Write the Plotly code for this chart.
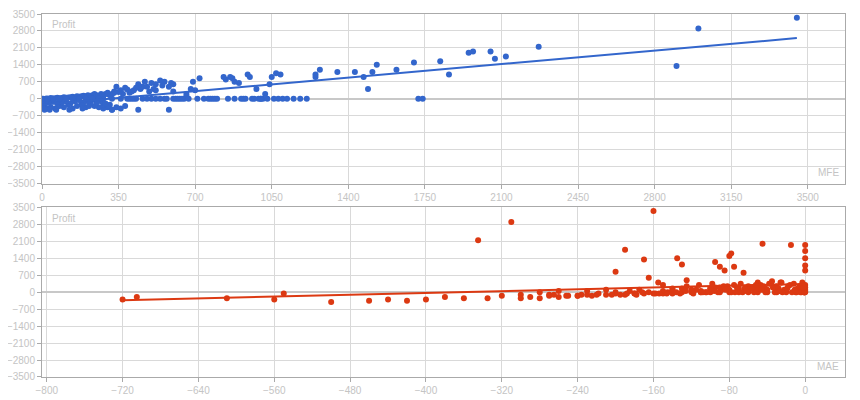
import numpy as np
import plotly.graph_objects as go
from plotly.subplots import make_subplots

# trades: MFE vs profit (top)
mfe = [3450, 3000, 2900, 2270, 2120, 2070, 2050, 1970, 1950, 1860, 1820, 1740, 1720, 1700, 1620,
       1530, 1510, 1490, 1470, 1430, 1350, 1270, 1250, 1250, 1180, 1120, 1090, 1070, 1050, 1040,
       1020, 1010, 990, 980, 950, 940, 920, 900, 880, 870, 860, 840, 830, 790, 770, 720, 700, 690,
       680, 660, 660, 650, 630, 600, 590, 580, 560, 550, 540, 520, 510, 500, 490, 470, 460, 440,
       420, 400, 380, 360, 340, 330, 320, 300, 280, 250, 580, 440, 610, 560, 600, 520, 480, 450,
       420, 400, 370, 360, 390, 410, 430, 350, 380, 360, 340, 320, 300, 280, 310,
       330, 320, 310, 300, 290, 280, 270, 260, 250, 240, 230, 220, 210, 200, 190, 180, 170, 160,
       150, 140, 130, 120, 110, 100, 90, 80, 70, 60, 50, 40, 30, 20, 10, 5,
       300, 280, 260, 240, 220, 200, 180, 160, 140, 120, 100, 80, 60, 40, 20, 10,
       270, 250, 230, 210, 190, 170, 150, 130, 110, 90, 70, 50, 30, 15, 5, 0,
       260, 230, 200, 170, 140, 110, 80, 50, 25, 0, 320, 290, 215, 185, 125, 65, 35, 12,
       1030, 1000, 960, 930, 880, 850, 800, 780, 760, 740, 710, 670, 640, 620, 600, 570,
       540, 520, 500, 480, 460, 430, 410, 390, 1210, 1150, 1100, 1080, 1060, 1000, 970, 910]
profit_top = [3350, 2900, 1350, 2150, 1750, 1650, 1950, 1950, 1900, 1000, 1550, 0, 0, 1500, 1200,
              1400, 1100, 400, 900, 1100, 1100, 1200, 900, 1000, 0, 0, 1000, 1050, 900, 600,
              200, 0, 0, 400, 900, 1000, 0, 650, 700, 850, 900, 800, 900, 0, 0, 850, 350, 700,
              400, 200, 100, 0, 0, 600, 650, 500, 700, 550, 750, 600, 400, 650, 300, 700, 500, 600,
              0, 0, 450, 0, 500, 300, 0, 200, 0, 0, -450, -450, 0, 0, 300, 350, 500, 400,
              350, 250, 200, 350, 380, 300, 450, 280, -300, -400, -350, -450, -350, -400, -250,
              250, 200, 150, 250, 200, 150, 200, 100, 150, 200, 150, 100, 150, 100, 120, 100, 80, 100,
              50, 80, 60, 50, 40, 60, 30, 20, 40, 20, 10, 30, 0, 10, -20, 0,
              -300, -250, -350, -300, -200, -350, -250, -300, -400, -250, -350, -300, -400, -350, -400, -300,
              -100, -150, -50, -100, -150, -50, -100, -200, -100, -150, -200, -100, -150, -200, -250, -100,
              0, 0, 0, 0, 0, 0, 0, 0, 0, 0, -450, -200, -300, -400, -450, -450, -450, -450,
              0, 0, 0, 0, 0, 0, 0, 0, 0, 0, 0, 0, 0, 0, 0, 0,
              0, 0, 0, 0, 0, 0, 0, 0, 0, 0, 0, 0, 0, 0, 0, 0]

# trades: MAE vs profit (bottom)
mae = [-720, -705, -610, -560, -550, -500, -460, -440, -420, -400, -380, -360, -345, -335, -320,
       -310, -300, -280, -270, -260, -230, -210, -200, -190, -180, -170, -165, -160, -155, -150,
       -145, -135, -130, -125, -110, -95, -90, -85, -80, -78, -75, -65, -45, -15, 0, 0, 0, 0, 0,
       -300, -290, -280, -270, -260, -250, -240, -230, -220, -210, -200, -190, -180, -170, -160,
       -150, -140, -130, -120, -110, -100, -90, -80, -70, -60, -50, -40, -30, -20, -10, -5,
       -200, -185, -175, -165, -150, -140, -130, -120, -115, -105, -100, -95, -88, -82, -75, -70,
       -68, -60, -55, -50, -47, -42, -38, -35, -30, -28, -25, -22, -18, -12, -8, -3,
       -120, -110, -100, -90, -80, -70, -60, -50, -40, -30, -20, -10, 0, 0, 0, 0, 0,
       -140, -125, -112, -98, -86, -72, -64, -52, -44, -36, -26, -16, -6, -2,
       -240, -225, -195, -178, -158, -146, -132, -118, -104, -92, -78, -66, -54, -42, -32, -24,
       -14, -9, -4, -1, -1, -1, -1,
       -265, -252, -236, -218, -204, -188, -172, -154, -136, -126, -108, -96, -84, -74, -62, -56,
       -46, -34, -27, -19, -11, -6, -2]
profit_bot = [-300, -200, -250, -300, -50, -400, -350, -300, -350, -300, -200, -250, 2150, -250, -150,
              2900, -100, 0, -100, 50, 50, 100, 850, 1750, -50, 1350, 600, 3350, 400, 300,
              0, 1400, 1150, 500, 0, 1250, 1050, 900, 1500, 1600, 1050, 800, 2000, 1950, 1950, 1700, 1400, 1100, 900,
              -250, -200, -250, -150, -200, -150, -150, -100, -100, -100, -50, -100, -50, -50, -50,
              -50, -50, 0, 0, 0, 0, 0, 0, 0, 0, 0, 0, 0, 0, 0, 0,
              0, 50, 100, 0, 50, 100, 150, 50, 100, 0, 150, 200, 100, 250, 300, 150,
              350, 250, 200, 400, 300, 150, 350, 450, 250, 150, 400, 100, 250, 350, 150, 400,
              100, 50, 150, 200, 100, 50, 100, 150, 100, 50, 100, 50, 300, 200, 100, 50, 0,
              150, 250, 300, 350, 250, 200, 150, 300, 250, 350, 400, 300, 200, 100,
              -150, -150, -100, -100, -50, -50, -50, -50, 0, 0, 0, 0, 0, 0, 0, 0,
              0, 0, 0, 0, 0, 0, 0,
              -100, -150, -100, -50, -100, -50, 0, -50, 0, 50, 0, 50, 100, 0, 50, 150,
              100, 200, 50, 150, 100, 250, 200]

BLUE = "#3366cc"
RED = "#dc3912"
GRID = "#d9d9d9"
TXT = "#c4c4c4"

fig = make_subplots(rows=2, cols=1, vertical_spacing=0.066)

for row, xs, ys, col in [(1, mfe, profit_top, BLUE), (2, mae, profit_bot, RED)]:
    fig.add_trace(go.Scatter(x=xs, y=ys, mode="markers",
                             marker=dict(color=col, size=6), showlegend=False), row=row, col=1)
    k, b = np.polyfit(xs, ys, 1)
    lx = np.array([min(xs), max(xs)])
    fig.add_trace(go.Scatter(x=lx, y=k * lx + b, mode="lines",
                             line=dict(color=col, width=2), showlegend=False), row=row, col=1)

ax = dict(showgrid=True, gridcolor=GRID, zeroline=False, showline=True, linecolor="#aaaaaa",
          mirror=True, ticks="outside", ticklen=4, tickcolor="#aaaaaa", automargin=False,
          tickfont=dict(size=10, color=TXT))
fig.update_xaxes(ax)
fig.update_yaxes(ax)
fig.update_xaxes(range=[0, 3670], tick0=0, dtick=350, row=1, col=1)
fig.update_xaxes(range=[-805, 42], tick0=-800, dtick=80, row=2, col=1)
fig.update_yaxes(range=[-3500, 3500], tick0=-3500, dtick=700, zeroline=True,
                 zerolinecolor="#c8c8c8", zerolinewidth=2)

anns = [("x domain", "y domain", "Profit", 0.01, 0.98, "left", "top"),
        ("x domain", "y domain", "MFE", 0.995, 0.02, "right", "bottom"),
        ("x2 domain", "y2 domain", "Profit", 0.01, 0.98, "left", "top"),
        ("x2 domain", "y2 domain", "MAE", 0.995, 0.02, "right", "bottom")]
for xr, yr, t, x, y, xa, ya in anns:
    fig.add_annotation(xref=xr, yref=yr, x=x, y=y, text=t, showarrow=False,
                       xanchor=xa, yanchor=ya, font=dict(size=10, color=TXT))

fig.update_layout(width=852, height=392, margin=dict(l=34, r=15, t=6, b=23),
                  plot_bgcolor="white", paper_bgcolor="white",
                  font=dict(family="Arial, Liberation Sans"))
fig.write_html("out.html")
